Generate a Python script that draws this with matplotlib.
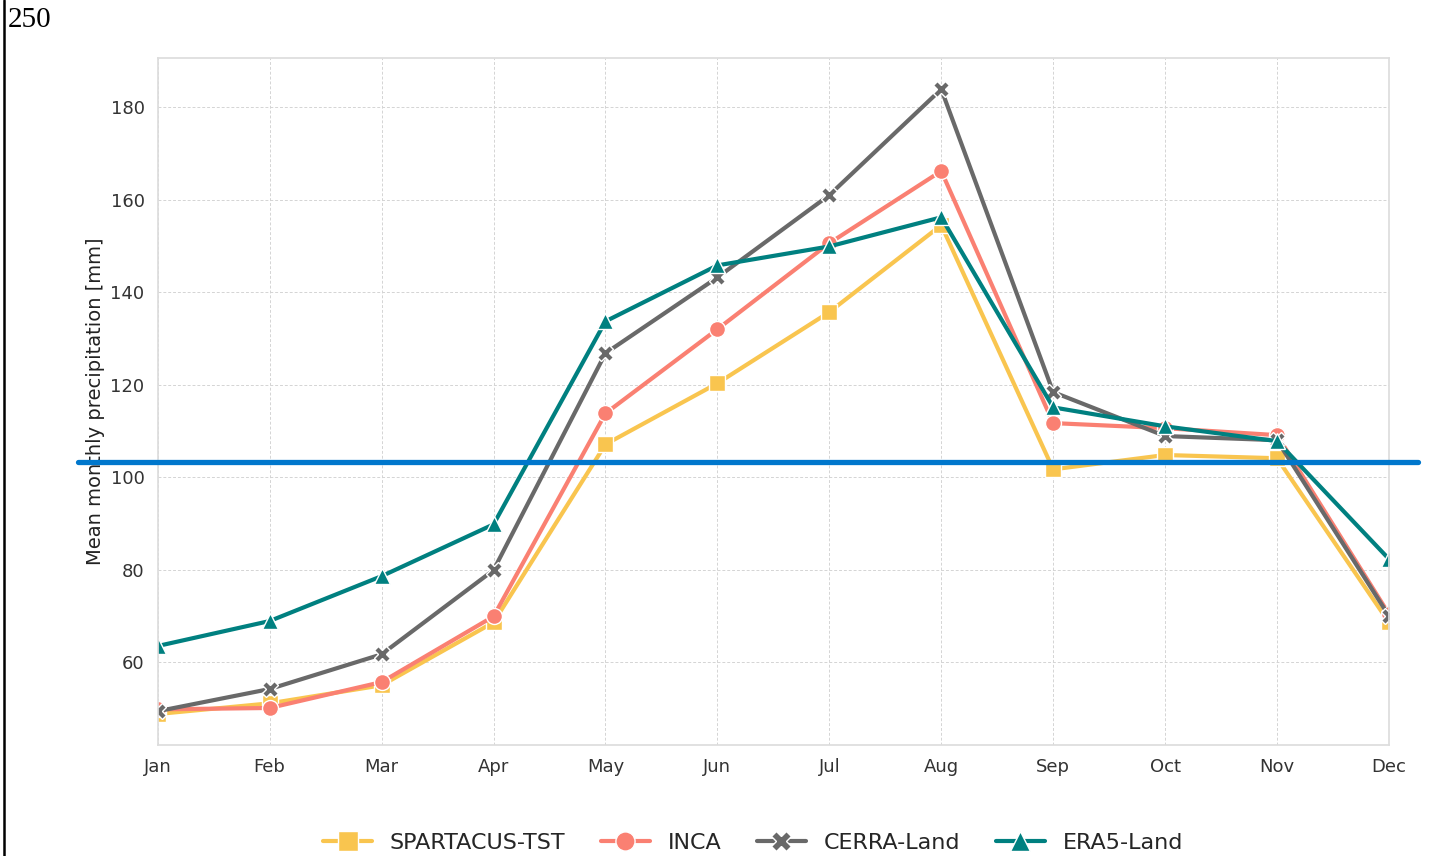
import matplotlib
matplotlib.use("Agg")
import matplotlib.pyplot as plt
import seaborn as sns

# monthly means
months = ["Jan", "Feb", "Mar", "Apr", "May", "Jun", "Jul", "Aug", "Sep", "Oct", "Nov", "Dec"]
spartacus = [48.8, 51.1, 55.0, 68.6, 107.1, 120.3, 135.7, 154.5, 101.7, 104.8, 104.1, 68.6]
inca = [49.8, 50.1, 55.7, 69.9, 113.8, 132.0, 150.6, 166.2, 111.7, 110.6, 109.1, 70.4]
cerra = [49.4, 54.2, 61.7, 79.9, 126.8, 143.2, 161.0, 183.9, 118.4, 108.9, 108.0, 70.0]
era5 = [63.5, 68.9, 78.6, 89.8, 133.7, 145.8, 149.9, 156.2, 115.1, 111.0, 107.8, 82.3]
ref_level = 103.2

sns.set_theme(style="whitegrid")
plt.rcParams["font.family"] = ["DejaVu Sans"]

fig = plt.figure(figsize=(14.34, 8.56), dpi=100)
ax = fig.add_axes([0.110, 0.1297, 0.8586, 0.8023])

x = list(range(len(months)))
series = [
    ("SPARTACUS-TST", spartacus, "#F9C54F", "s"),
    ("INCA", inca, "#FA8072", "o"),
    ("CERRA-Land", cerra, "#696969", "X"),
    ("ERA5-Land", era5, "#008080", "^"),
]
for name, vals, col, mk in series:
    ax.plot(x, vals, color=col, marker=mk, lw=3, ms=11.5,
            markeredgecolor="white", markeredgewidth=1, label=name)

ax.set_xlim(0, 11)
ax.set_ylim(42.1, 190.6)
ax.set_xticks(x)
ax.set_xticklabels(months)
ax.set_yticks([60, 80, 100, 120, 140, 160, 180])
ax.tick_params(labelsize=13, colors="#333333")
ax.set_ylabel("Mean monthly precipitation [mm]", fontsize=14, color="#222222")
ax.grid(True, linestyle=(0, (3, 2)), color="#d4d4d4", linewidth=0.7)
for s in ax.spines.values():
    s.set_color("#dddddd")

# reference line running past the axes
ax.axhline(ref_level, xmin=-0.065, xmax=1.0236, color="#0077CC", lw=3.8, clip_on=False, zorder=5)

fig.legend(loc="center", bbox_to_anchor=(753 / 1434, 1 - 843 / 856), ncol=4, frameon=False,
           fontsize=16, handlelength=2.2, columnspacing=1.6, markerscale=1.2)

fig.text(8 / 1434, 1 - 20 / 856, "250", family="Liberation Serif", fontsize=21,
         va="center", ha="left", color="black")
fig.add_artist(plt.Line2D([4 / 1434, 4 / 1434], [0, 1], color="black", lw=1.8,
                          transform=fig.transFigure))

fig.savefig("out.png", dpi=100)
